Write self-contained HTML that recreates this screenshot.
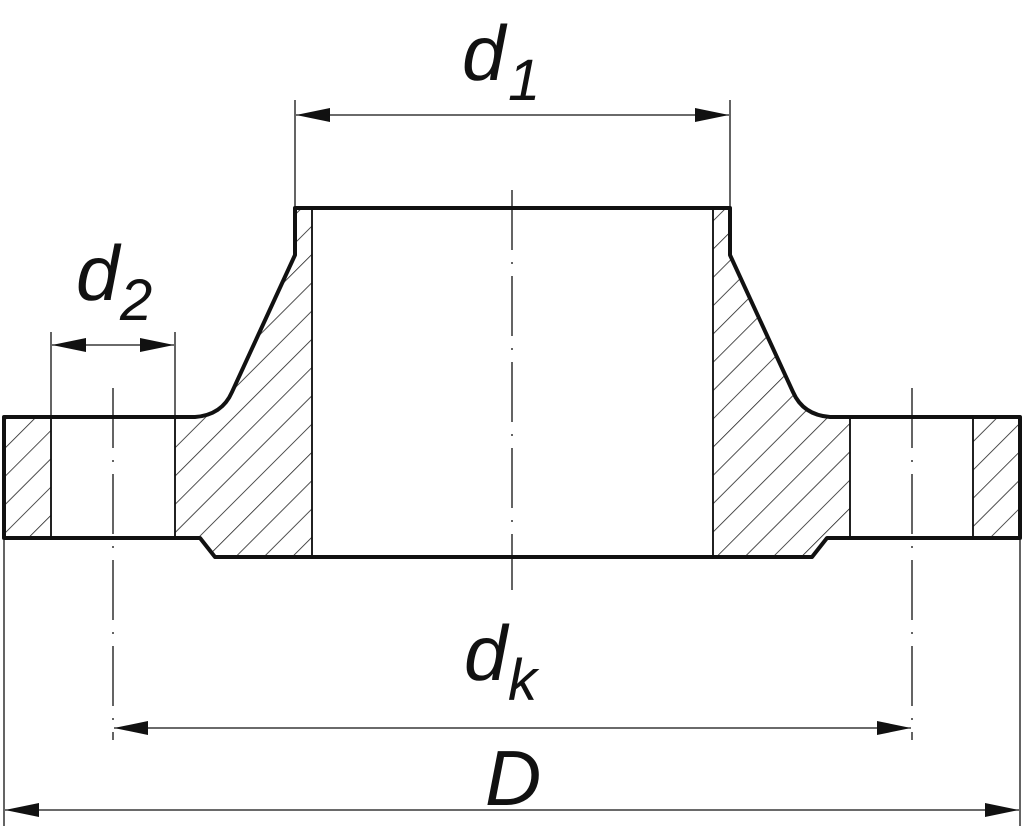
<!DOCTYPE html>
<html><head><style>html,body{margin:0;padding:0;background:#fff;}svg{display:block;}</style></head>
<body>
<svg width="1024" height="830" viewBox="0 0 1024 830" xmlns="http://www.w3.org/2000/svg">
<defs>
<pattern id="h" patternUnits="userSpaceOnUse" width="20" height="20" patternTransform="rotate(45)">
<line x1="0" y1="0" x2="0" y2="20" stroke="#222" stroke-width="1.6"/>
</pattern>
<marker id="a" markerWidth="34" markerHeight="14" refX="34" refY="7" orient="auto-start-reverse" markerUnits="userSpaceOnUse"><path d="M0,0 L34,7 L0,14 Z" fill="#111"/></marker>
</defs>
<g fill="url(#h)" stroke="#111" stroke-width="1.8">
<rect x="4" y="417" width="47" height="121"/>
<rect x="973" y="417" width="47" height="121"/>
<path d="M175,417 L195,417 Q222,415 232,392 L295,255 L295,208 L312,208 L312,557 L215,557 L200,538 L175,538 Z"/>
<path d="M850,417 L830,417 Q803,415 793,392 L730,255 L730,208 L713,208 L713,557 L812,557 L827,538 L850,538 Z"/>
</g>
<g fill="none" stroke="#111" stroke-width="4" stroke-linejoin="round">
<path d="M4,417 L195,417 Q222,415 232,392 L295,255 L295,208 L730,208 L730,255 L793,392 Q803,415 830,417 L1020,417 L1020,538 L827,538 L812,557 L215,557 L200,538 L4,538 Z"/>
</g>
<g stroke="#111" stroke-width="1.3" fill="none">
<line x1="51" y1="417" x2="51" y2="538"/><line x1="175" y1="417" x2="175" y2="538"/>
<line x1="850" y1="417" x2="850" y2="538"/><line x1="973" y1="417" x2="973" y2="538"/>
<line x1="312" y1="208" x2="312" y2="557"/><line x1="713" y1="208" x2="713" y2="557"/>
<line x1="512" y1="190" x2="512" y2="590" stroke-dasharray="60,12,2,12"/>
<line x1="113" y1="388" x2="113" y2="740" stroke-dasharray="60,12,2,12"/>
<line x1="912" y1="388" x2="912" y2="740" stroke-dasharray="60,12,2,12"/>
<line x1="295" y1="100" x2="295" y2="208"/><line x1="730" y1="100" x2="730" y2="208"/>
<line x1="51" y1="332" x2="51" y2="417"/><line x1="175" y1="332" x2="175" y2="417"/>
<line x1="4" y1="540" x2="4" y2="826"/><line x1="1020" y1="540" x2="1020" y2="826"/>
<line x1="296" y1="115" x2="729" y2="115" marker-start="url(#a)" marker-end="url(#a)"/>
<line x1="52" y1="345" x2="174" y2="345" marker-start="url(#a)" marker-end="url(#a)"/>
<line x1="114" y1="728" x2="911" y2="728" marker-start="url(#a)" marker-end="url(#a)"/>
<line x1="5" y1="810" x2="1019" y2="810" marker-start="url(#a)" marker-end="url(#a)"/>
</g>
<g font-family="Liberation Sans, sans-serif" font-style="italic" fill="#111">
<text x="462" y="80" font-size="78">d</text><text x="508" y="100" font-size="58">1</text>
<text x="76" y="300" font-size="78">d</text><text x="120" y="320" font-size="58">2</text>
<text x="464" y="680" font-size="78">d</text><text x="508" y="700" font-size="58">k</text>
<text x="485" y="805" font-size="78">D</text>
</g>
</svg>
</body></html>
